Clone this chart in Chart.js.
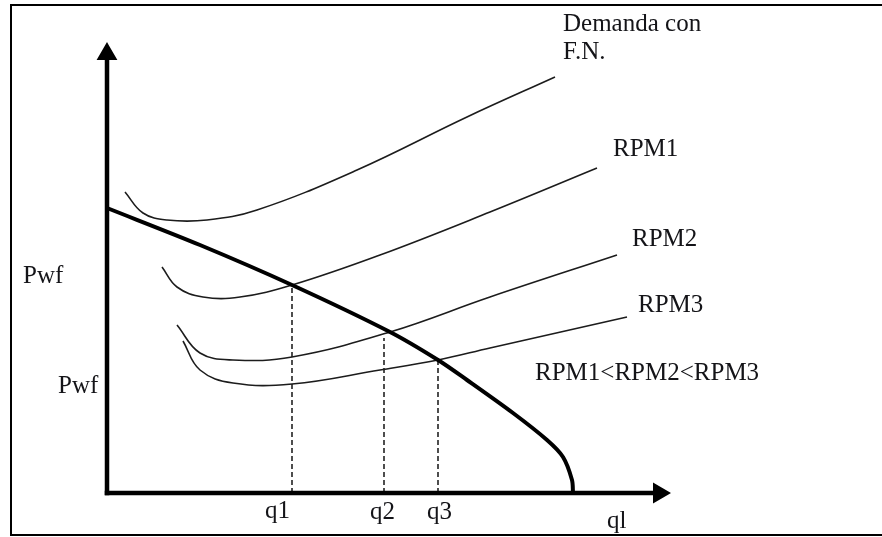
<!DOCTYPE html>
<html>
<head>
<meta charset="utf-8">
<script src="https://cdn.jsdelivr.net/npm/chart.js@4.4.1/dist/chart.umd.min.js"></script>
<style>
  body { margin: 0; background: #fff; }
  #wrap { width: 882px; height: 537px; }
</style>
</head>
<body>
<div id="wrap"><canvas id="ipr"></canvas></div>
<script>
// curves: q (caudal) vs Pwf, origin at the axes corner
var iprQ = [0, 93, 185, 283, 331, 360, 406, 440, 456, 465, 466];
var iprP = [285, 248, 208, 161, 133, 113, 80, 53, 36, 13, 0];

var demQ = [18, 36, 60, 100, 150, 250, 360, 448];
var demP = [301, 280, 273, 273, 283, 323, 376, 416];

var rpm1Q = [55, 70, 96, 133, 185, 273, 383, 490];
var rpm1P = [226, 206, 196, 196, 208, 238, 281, 325];

var rpm2Q = [70, 93, 126, 185, 283, 383, 510];
var rpm2P = [168, 140, 133, 136, 161, 196, 238];

var rpm3Q = [76, 93, 126, 185, 273, 331, 383, 520];
var rpm3P = [152, 123, 110, 109, 123, 133, 145, 176];

// operating points q1, q2, q3 (dashed drop lines)
var opLabels = ['q1', 'q2', 'q3'];
var opQ = [185, 277, 331];
var opP = [208, 155, 135];

var axisXMax = 552;
var axisYMax = 439;

function pts(xs, ys) {
    return xs.map(function (x, i) { return { x: x, y: ys[i] }; });
}

function thin(data) {
    return {
        data: data,
        borderColor: '#1c1c1c',
        borderWidth: 1.6,
        pointRadius: 0,
        tension: 0.4
    };
}

var datasets = [
    {
        // y axis with arrow head
        data: [{ x: 0, y: 0 }, { x: 0, y: axisYMax }],
        borderColor: '#000',
        borderWidth: 4.5,
        pointStyle: 'triangle',
        pointRadius: [0, 7.5],
        pointBackgroundColor: '#000',
        pointBorderColor: '#000',
        borderCapStyle: 'square'
    },
    {
        // x axis with arrow head
        data: [{ x: 0, y: 0 }, { x: axisXMax, y: 0 }],
        borderColor: '#000',
        borderWidth: 4.5,
        pointStyle: 'triangle',
        pointRotation: 90,
        pointRadius: [0, 7.5],
        pointBackgroundColor: '#000',
        pointBorderColor: '#000',
        borderCapStyle: 'square'
    },
    {
        data: pts(iprQ, iprP),
        borderColor: '#000',
        borderWidth: 4,
        pointRadius: 0,
        tension: 0.3
    },
    thin(pts(demQ, demP)),
    thin(pts(rpm1Q, rpm1P)),
    thin(pts(rpm2Q, rpm2P)),
    thin(pts(rpm3Q, rpm3P))
];

opQ.forEach(function (q, i) {
    datasets.push({
        data: [{ x: q, y: 0 }, { x: q, y: opP[i] }],
        borderColor: '#222',
        borderWidth: 1.6,
        borderDash: [5, 3],
        pointRadius: 0
    });
});

// free text of the sketch, placed in data units (left, baseline)
var notes = [
    { t: 'Demanda con', x: 456, y: 462 },
    { t: 'F.N.', x: 456, y: 434 },
    { t: 'RPM1', x: 506, y: 337 },
    { t: 'RPM2', x: 525, y: 247 },
    { t: 'RPM3', x: 531, y: 181 },
    { t: 'RPM1<RPM2<RPM3', x: 428, y: 113 },
    { t: 'Pwf', x: -84, y: 210 },
    { t: 'Pwf', x: -49, y: 100 },
    { t: 'q1', x: 158, y: -25 },
    { t: 'q2', x: 263, y: -26 },
    { t: 'q3', x: 320, y: -26 },
    { t: 'ql', x: 500, y: -35 }
];

var sketchText = {
    id: 'sketchText',
    afterDatasetsDraw: function (chart) {
        var c = chart.ctx, xs = chart.scales.x, ys = chart.scales.y;
        c.save();
        // frame of the figure
        c.strokeStyle = '#000';
        c.lineWidth = 2;
        c.beginPath();
        c.moveTo(chart.width, 5);
        c.lineTo(11, 5);
        c.lineTo(11, 535);
        c.lineTo(chart.width, 535);
        c.stroke();

        c.fillStyle = '#141418';
        c.font = '25px "Liberation Serif", "Times New Roman", serif';
        c.textBaseline = 'alphabetic';
        c.textAlign = 'left';
        notes.forEach(function (n) {
            c.fillText(n.t, xs.getPixelForValue(n.x), ys.getPixelForValue(n.y));
        });
        c.restore();
    }
};

new Chart(document.getElementById('ipr'), {
    type: 'line',
    data: { datasets: datasets },
    options: {
        responsive: true,
        maintainAspectRatio: false,
        animation: false,
        layout: { padding: 0, autoPadding: false },
        scales: {
            x: { type: 'linear', min: -107, max: 775, display: false },
            y: { type: 'linear', min: -44, max: 493, display: false }
        },
        plugins: {
            legend: { display: false },
            tooltip: { enabled: false }
        }
    },
    plugins: [sketchText]
});
</script>
</body>
</html>
